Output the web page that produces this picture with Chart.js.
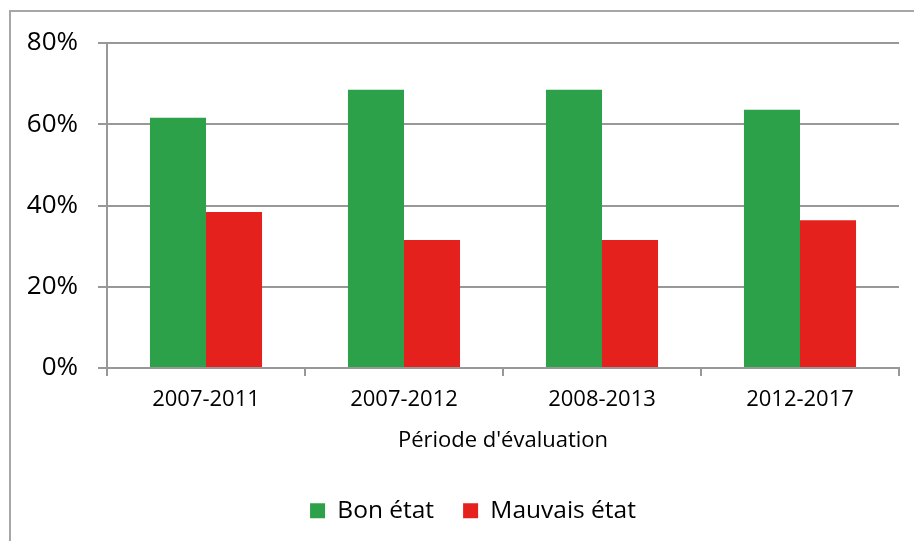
<!DOCTYPE html>
<html lang="fr">
<head>
<meta charset="utf-8">
<title>État par période d'évaluation</title>
<script src="https://cdn.jsdelivr.net/npm/chart.js@4.4.1/dist/chart.umd.min.js"></script>
<style>
    html, body { margin: 0; padding: 0; background: #fff; }
    #etatChart { display: block; }
</style>
</head>
<body>
<canvas id="etatChart" width="914" height="541"></canvas>
<script>
const periodes = ["2007-2011", "2007-2012", "2008-2013", "2012-2017"];
const bonEtat = [61.6, 68.5, 68.5, 63.6];      // %
const mauvaisEtat = [38.4, 31.5, 31.5, 36.4];  // %
const yTicks = [0, 20, 40, 60, 80];

const FONT = "'Open Sans', 'Noto Sans', sans-serif";
const GRIS = "#989898";

// cadre gris (haut et gauche) autour du graphique
const cadre = {
    id: "cadre",
    beforeDraw(chart) {
        const ctx = chart.ctx;
        ctx.save();
        ctx.strokeStyle = "#a6a6a6";
        ctx.lineWidth = 2;
        ctx.beginPath();
        ctx.moveTo(10, chart.height);
        ctx.lineTo(10, 11);
        ctx.lineTo(chart.width, 11);
        ctx.stroke();
        ctx.restore();
    }
};

// décale un peu la légende vers la droite
const legendeDecalee = {
    id: "legendeDecalee",
    afterLayout(chart) {
        const lg = chart.legend;
        const shift = 473 - (lg.left + lg.right) / 2;
        lg.left += shift;
        lg.right += shift;
    }
};

document.addEventListener("DOMContentLoaded", function () {
    let ctx = document.getElementById("etatChart").getContext("2d");

    new Chart(ctx, {
        type: "bar",
        data: {
            labels: periodes,
            datasets: [{
                label: "Bon état",
                data: bonEtat,
                backgroundColor: "#2ca14a"
            }, {
                label: "Mauvais état",
                data: mauvaisEtat,
                backgroundColor: "#e4211c"
            }]
        },
        options: {
            responsive: false,
            animation: false,
            categoryPercentage: 0.566,
            barPercentage: 1,
            layout: {
                padding: { top: 43, right: 15, bottom: 8, left: 0 }
            },
            scales: {
                x: {
                    offset: true,
                    afterFit: function (scale) { scale.height = 101.5; },
                    grid: {
                        offset: true,
                        drawOnChartArea: false,
                        tickLength: 8,
                        color: GRIS,
                        lineWidth: 2
                    },
                    border: { color: GRIS, width: 2 },
                    ticks: {
                        padding: 11,
                        color: "#000",
                        font: { family: FONT, size: 22 }
                    },
                    title: {
                        display: true,
                        text: "Période d'évaluation",
                        color: "#000",
                        font: { family: FONT, size: 22 },
                        padding: { top: 0, bottom: 16 }
                    }
                },
                y: {
                    min: 0,
                    max: 80,
                    afterFit: function (scale) { scale.width = 107; },
                    afterBuildTicks: function (scale) {
                        scale.ticks = yTicks.map(v => ({ value: v }));
                    },
                    grid: {
                        tickLength: 9,
                        color: GRIS,
                        lineWidth: 2
                    },
                    border: { color: GRIS, width: 2 },
                    ticks: {
                        padding: 20,
                        color: "#000",
                        font: { family: FONT, size: 26 },
                        callback: v => v + "%"
                    }
                }
            },
            plugins: {
                legend: {
                    position: "bottom",
                    labels: {
                        boxWidth: 15,
                        boxHeight: 15,
                        padding: 29,
                        color: "#000",
                        font: { family: FONT, size: 24.5 }
                    }
                },
                tooltip: { enabled: false }
            }
        },
        plugins: [cadre, legendeDecalee]
    });
});
</script>
</body>
</html>
